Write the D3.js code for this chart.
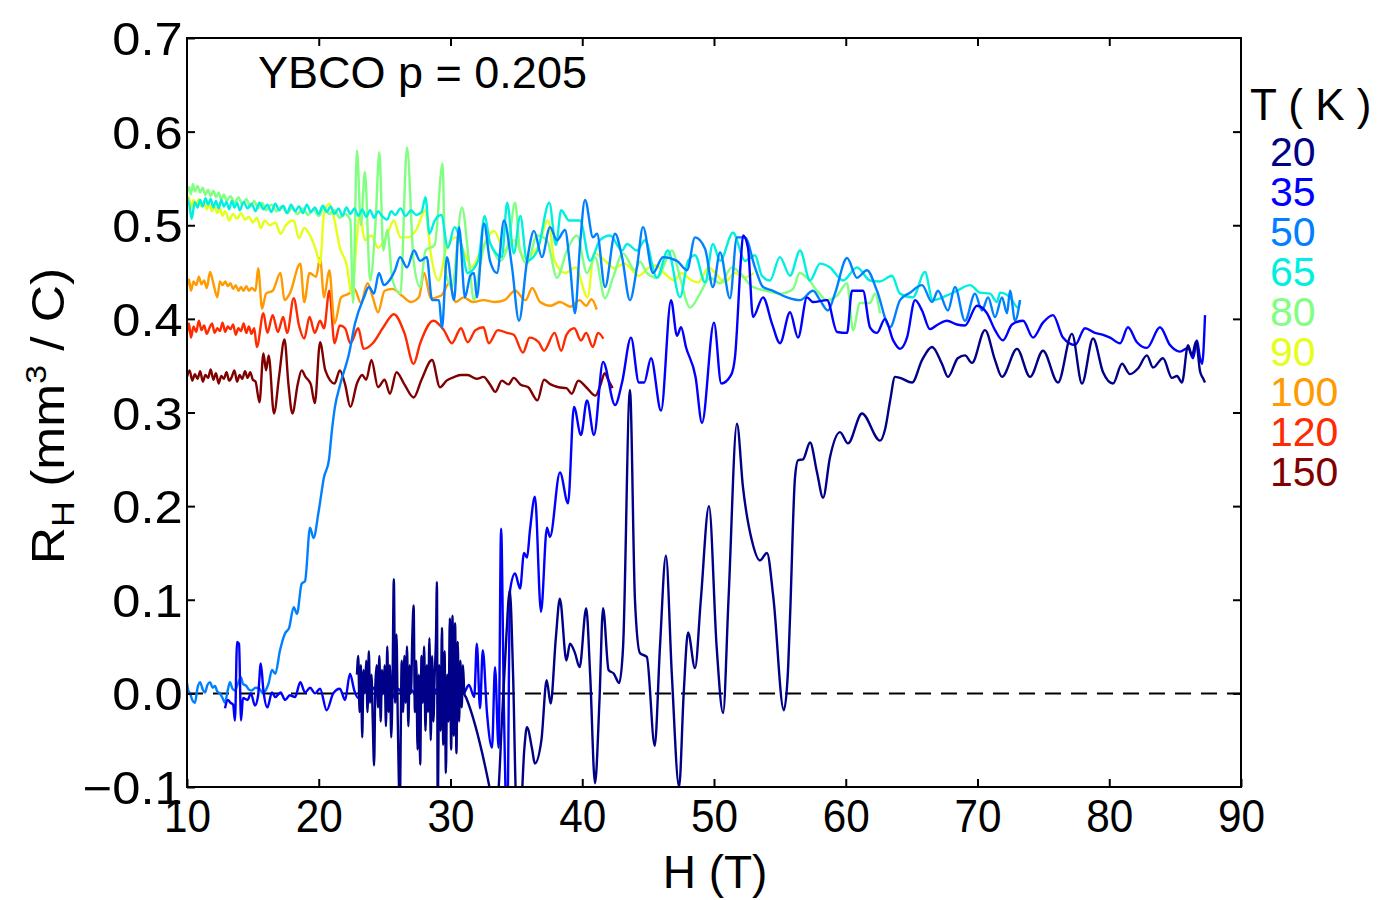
<!DOCTYPE html>
<html>
<head>
<meta charset="utf-8">
<script src="https://cdn.jsdelivr.net/npm/d3@7"></script>
<style>
  body { margin: 0; background: #fff; }
  text { font-family: "Liberation Sans", Arial, Helvetica, sans-serif; fill: #000; }
</style>
</head>
<body>
<script>
// Step 1: data, [H (T), R_H (mm^3/C)]
// =================================
var temps = [20, 35, 50, 65, 80, 90, 100, 120, 150];
var colors = ["#000088", "#0000ff", "#0080ff", "#00f0e0", "#80ff80", "#e4ff1a", "#ff9a00", "#ff2a00", "#800000"];
var xTicks = [10, 20, 30, 40, 50, 60, 70, 80, 90];
var yTicks = [-0.1, 0.0, 0.1, 0.2, 0.3, 0.4, 0.5, 0.6, 0.7];

var t150 = [[10.0,0.338],[10.2,0.345],[10.4,0.334],[10.6,0.341],[10.8,0.336],[11.0,0.344],[11.2,0.333],[11.4,0.34],[11.6,0.337],[11.8,0.346],[12.0,0.335],[12.2,0.342],[12.4,0.331],[12.6,0.339],[12.8,0.336],[13.0,0.343],[13.2,0.334],[13.4,0.338],[13.6,0.345],[13.8,0.333],[14.0,0.34],[14.2,0.336],[14.4,0.344],[14.6,0.337],[14.8,0.343],[15.0,0.335],[15.2,0.333],
  [15.5,0.311],[15.8,0.363],[16.0,0.345],[16.2,0.361],[16.6,0.299],[17.0,0.34],[17.4,0.378],[17.7,0.33],[18.0,0.299],[18.4,0.33],[18.7,0.345],[19.0,0.338],[19.4,0.33],[19.7,0.31],[20.1,0.375],[20.5,0.345],[21.2,0.331],[21.6,0.345],[22.0,0.33],[22.4,0.306],[22.9,0.331],[23.3,0.34],[23.6,0.335],[24.0,0.356],[24.5,0.327],[25.0,0.335],[25.4,0.32],[25.9,0.343],[26.5,0.33],[27.2,0.316],[27.8,0.335],[28.6,0.356],[29.2,0.327],[29.7,0.334],[30.3,0.338],[30.8,0.34],[31.3,0.34],[32.0,0.336],[32.5,0.338],[33.0,0.33],[33.4,0.322],[33.9,0.334],[34.4,0.33],[34.8,0.337],[35.3,0.33],[35.9,0.327],[36.6,0.313],[37.1,0.335],[37.6,0.33],[38.2,0.327],[38.8,0.326],[39.2,0.32],[39.7,0.334],[40.3,0.327],[41.0,0.318],[41.4,0.33],[41.7,0.342],[42.0,0.334],[42.3,0.326]];

var t120 = [[10.0,0.385],[10.15,0.395],[10.3,0.38],[10.5,0.392],[10.7,0.386],[10.9,0.398],[11.1,0.388],[11.3,0.393],[11.5,0.384],[11.7,0.39],[11.9,0.395],[12.1,0.385],[12.3,0.39],[12.5,0.387],[12.7,0.396],[12.9,0.386],[13.1,0.392],[13.3,0.389],[13.5,0.394],[13.7,0.383],[13.9,0.39],[14.1,0.387],[14.3,0.395],[14.5,0.385],[14.7,0.392],[14.9,0.384],[15.1,0.39],[15.3,0.37],[15.8,0.406],[16.1,0.385],[16.5,0.404],[16.9,0.386],[17.3,0.402],[17.6,0.385],[18.1,0.422],[18.5,0.393],[18.9,0.379],[19.3,0.402],[19.7,0.385],[20.1,0.398],[20.4,0.39],[20.8,0.43],[21.2,0.374],[21.6,0.393],[22.0,0.39],[22.4,0.374],[23.0,0.39],[23.4,0.368],[24.1,0.374],[24.9,0.391],[25.7,0.405],[26.5,0.385],[27.2,0.352],[27.7,0.374],[28.7,0.398],[29.5,0.388],[30.1,0.374],[30.8,0.39],[31.3,0.375],[31.9,0.388],[32.5,0.391],[32.9,0.374],[33.6,0.388],[34.3,0.385],[34.8,0.383],[35.5,0.364],[36.0,0.38],[36.7,0.375],[37.1,0.366],[37.9,0.385],[38.4,0.366],[38.8,0.383],[39.4,0.39],[39.9,0.377],[40.3,0.385],[40.8,0.37],[41.2,0.385],[41.6,0.379]];

var t100 = [[10.0,0.435],[10.15,0.442],[10.3,0.43],[10.5,0.44],[10.7,0.436],[10.9,0.445],[11.1,0.437],[11.3,0.441],[11.5,0.433],[11.75,0.45],[12.0,0.438],[12.3,0.423],[12.5,0.44],[12.7,0.436],[12.9,0.44],[13.1,0.435],[13.3,0.438],[13.5,0.432],[13.7,0.436],[13.9,0.43],[14.1,0.434],[14.3,0.43],[14.5,0.435],[14.7,0.43],[14.9,0.433],[15.2,0.43],[15.4,0.454],[15.7,0.411],[16.0,0.427],[16.5,0.43],[17.1,0.449],[17.4,0.42],[17.8,0.427],[18.6,0.459],[18.9,0.418],[19.3,0.449],[19.8,0.445],[20.1,0.465],[20.4,0.423],[20.8,0.452],[21.2,0.395],[21.7,0.423],[22.3,0.427],[22.7,0.432],[23.2,0.417],[23.7,0.438],[24.1,0.423],[24.5,0.407],[25.0,0.43],[25.6,0.432],[26.3,0.425],[27.0,0.418],[27.6,0.423],[28.0,0.449],[28.5,0.422],[29.3,0.425],[29.9,0.438],[30.4,0.418],[31.0,0.423],[31.7,0.418],[32.5,0.42],[33.4,0.418],[34.1,0.42],[34.9,0.43],[35.7,0.42],[36.2,0.433],[36.8,0.418],[37.6,0.414],[38.3,0.418],[39.1,0.413],[39.8,0.42],[40.3,0.414],[40.7,0.421],[41.1,0.41]];

var t90 = [[10.0,0.525],[10.15,0.53],[10.3,0.518],[10.5,0.527],[10.7,0.521],[10.9,0.528],[11.1,0.52],[11.3,0.525],[11.5,0.517],[11.7,0.522],[11.9,0.515],[12.1,0.52],[12.3,0.513],[12.5,0.518],[12.7,0.51],[12.9,0.515],[13.2,0.505],[13.5,0.512],[13.8,0.507],[14.1,0.513],[14.4,0.506],[14.7,0.509],[15.0,0.503],[15.3,0.508],[15.6,0.497],[15.9,0.505],[16.3,0.5],[16.7,0.503],[17.1,0.491],[17.5,0.5],[18.1,0.505],[18.5,0.486],[18.9,0.497],[19.3,0.49],[19.8,0.473],[20.1,0.459],[20.4,0.513],[20.8,0.523],[21.2,0.505],[21.6,0.476],[22.1,0.459],[22.5,0.427],[22.9,0.487],[23.1,0.513],[23.5,0.484],[24.0,0.489],[24.5,0.476],[25.2,0.49],[25.7,0.505],[26.2,0.487],[26.8,0.487],[27.4,0.495],[28.1,0.516],[28.5,0.47],[29.1,0.441],[29.7,0.476],[30.4,0.487],[31.2,0.466],[31.6,0.455],[32.4,0.476],[33.3,0.494],[34.1,0.473],[34.8,0.484],[35.6,0.466],[36.6,0.476],[37.4,0.505],[37.9,0.462],[38.7,0.449],[39.5,0.455],[40.4,0.423],[40.9,0.47],[41.9,0.46],[42.4,0.454],[43.2,0.459],[44.3,0.446],[45.0,0.454],[45.6,0.457],[46.2,0.449],[47.0,0.441],[47.5,0.449],[48.3,0.441],[48.8,0.439],[49.6,0.455],[50.1,0.449],[50.8,0.439],[51.6,0.449],[52.3,0.444],[53.0,0.449]];

var t80 = [[10.0,0.534],[10.15,0.541],[10.3,0.533],[10.45,0.544],[10.6,0.536],[10.8,0.542],[11.0,0.535],[11.2,0.54],[11.4,0.532],[11.6,0.538],[11.8,0.531],[12.0,0.537],[12.2,0.53],[12.4,0.535],[12.6,0.527],[12.8,0.533],[13.0,0.526],[13.3,0.531],[13.6,0.524],[13.9,0.53],[14.2,0.522],[14.5,0.528],[14.8,0.52],[15.1,0.526],[15.4,0.518],[15.7,0.524],[16.0,0.516],[16.4,0.522],[16.8,0.515],[17.2,0.52],[17.6,0.513],[18.0,0.519],[18.4,0.512],[18.8,0.518],[19.2,0.511],[19.6,0.517],[20.0,0.51],[20.4,0.52],[20.8,0.512],[21.2,0.516],[21.6,0.508],[22.0,0.512],[22.4,0.505],[22.6,0.417],[22.9,0.58],[23.2,0.5],[23.5,0.557],[23.9,0.441],[24.3,0.5],[24.6,0.578],[24.9,0.473],[25.2,0.495],[25.6,0.441],[26.2,0.427],[26.7,0.583],[27.2,0.462],[27.7,0.434],[28.1,0.473],[28.8,0.479],[29.4,0.566],[29.6,0.452],[30.1,0.434],[30.87,0.519],[31.4,0.462],[31.78,0.42],[32.24,0.457],[32.77,0.484],[33.76,0.462],[34.44,0.484],[34.9,0.524],[35.28,0.473],[35.81,0.459],[36.57,0.489],[37.32,0.484],[38.08,0.444],[38.84,0.473],[39.6,0.489],[40.36,0.449],[40.97,0.466],[41.73,0.422],[42.33,0.444],[43.09,0.47],[44.0,0.452],[44.38,0.461],[44.91,0.449],[45.67,0.444],[46.81,0.473],[47.42,0.444],[48.18,0.412],[48.94,0.427],[49.7,0.444],[50.46,0.438],[51.37,0.455],[51.97,0.449],[52.96,0.434],[54.02,0.43],[55.01,0.427],[56.0,0.432],[56.5,0.449],[57.06,0.444],[57.82,0.43],[58.58,0.42],[59.34,0.425],[60.1,0.438],[60.55,0.388],[61.08,0.417],[61.84,0.417],[62.22,0.427],[62.6,0.406]];

var t65 = [[10.0,0.53],[10.2,0.52],[10.35,0.507],[10.6,0.525],[10.8,0.519],[11.0,0.527],[11.2,0.52],[11.4,0.529],[11.6,0.522],[11.8,0.528],[12.0,0.519],[12.2,0.526],[12.4,0.518],[12.6,0.527],[12.8,0.52],[13.0,0.525],[13.2,0.517],[13.4,0.526],[13.6,0.519],[13.8,0.524],[14.0,0.516],[14.3,0.525],[14.6,0.518],[14.9,0.523],[15.2,0.515],[15.5,0.524],[15.8,0.517],[16.1,0.522],[16.4,0.514],[16.7,0.523],[17.0,0.516],[17.3,0.521],[17.6,0.513],[17.9,0.522],[18.2,0.515],[18.5,0.52],[18.8,0.513],[19.1,0.522],[19.4,0.514],[19.7,0.519],[20.0,0.512],[20.3,0.521],[20.6,0.514],[20.9,0.52],[21.2,0.512],[21.5,0.518],[21.8,0.51],[22.1,0.519],[22.4,0.512],[22.7,0.518],[23.0,0.51],[23.3,0.517],[23.6,0.509],[23.9,0.516],[24.2,0.508],[24.5,0.515],[24.8,0.51],[25.2,0.506],[25.5,0.515],[25.8,0.511],[26.2,0.518],[26.6,0.51],[27.0,0.516],[27.4,0.511],[27.8,0.514],[28.1,0.53],[28.4,0.491],[28.8,0.505],[29.3,0.511],[29.8,0.476],[30.3,0.498],[30.8,0.481],[31.3,0.449],[32.1,0.462],[32.6,0.51],[33.0,0.481],[33.9,0.466],[34.3,0.524],[34.8,0.47],[35.3,0.51],[35.8,0.462],[36.6,0.473],[37.5,0.524],[38.0,0.479],[38.4,0.516],[39.0,0.505],[39.83,0.505],[40.59,0.462],[41.35,0.484],[42.11,0.489],[43.02,0.473],[43.4,0.48],[44.15,0.473],[44.76,0.484],[45.67,0.444],[46.5,0.473],[47.42,0.423],[48.03,0.462],[48.56,0.468],[49.32,0.439],[49.92,0.48],[50.46,0.462],[51.44,0.492],[52.35,0.462],[53.11,0.468],[53.64,0.446],[54.25,0.441],[55.0,0.466],[55.77,0.446],[56.53,0.473],[57.29,0.441],[58.05,0.459],[58.8,0.455],[59.79,0.441],[60.85,0.455],[61.84,0.441],[62.6,0.44],[63.5,0.446],[64.12,0.427],[65.1,0.423],[66.01,0.45],[66.6,0.42],[67.68,0.425],[68.44,0.43],[69.43,0.436],[70.19,0.428],[70.95,0.427],[71.48,0.418],[71.71,0.428],[72.47,0.423],[73.08,0.412],[73.23,0.42]];

var t50 = [[10.0,0.011],[10.1,0.003],[10.23,0.0],[10.4,-0.007],[10.6,-0.01],[10.8,0.006],[10.99,0.012],[11.2,0.004],[11.37,0.001],[11.55,0.009],[11.75,0.012],[11.95,0.006],[12.13,0.008],[12.3,0.002],[12.5,0.0],[12.7,-0.005],[12.88,-0.01],[13.1,0.004],[13.26,0.012],[13.45,0.005],[13.64,0.003],[13.85,0.01],[14.1,0.017],[14.25,0.01],[14.5,0.008],[14.7,0.004],[14.9,0.003],[15.2,0.006],[15.5,0.005],[15.75,0.0],[16.0,0.004],[16.2,0.011],[16.45,0.025],[16.7,0.021],[17.06,0.046],[17.44,0.064],[17.75,0.07],[18.1,0.092],[18.35,0.085],[18.7,0.117],[18.96,0.12],[19.34,0.177],[19.6,0.166],[20.0,0.195],[20.4,0.231],[20.77,0.249],[21.0,0.281],[21.23,0.306],[21.61,0.329],[22.3,0.363],[22.75,0.395],[23.43,0.423],[23.81,0.434],[24.19,0.427],[24.57,0.449],[24.95,0.436],[25.41,0.442],[25.79,0.452],[26.17,0.466],[26.7,0.455],[27.23,0.473],[27.69,0.462],[28.2,0.466],[28.6,0.42],[29.13,0.42],[29.35,0.39],[29.73,0.466],[30.27,0.42],[30.65,0.498],[31.1,0.423],[31.5,0.446],[31.78,0.449],[32.0,0.423],[32.54,0.502],[33.0,0.462],[33.53,0.449],[34.06,0.505],[34.67,0.455],[35.2,0.398],[35.81,0.462],[36.34,0.494],[36.94,0.466],[37.55,0.498],[38.08,0.484],[38.69,0.495],[39.07,0.457],[39.45,0.406],[39.83,0.479],[40.21,0.527],[40.82,0.487],[41.12,0.491],[41.73,0.434],[42.49,0.491],[43.02,0.466],[43.62,0.42],[44.15,0.455],[44.61,0.498],[45.37,0.449],[46.13,0.466],[47.19,0.462],[47.95,0.452],[48.56,0.487],[49.32,0.475],[49.92,0.434],[50.46,0.471],[51.21,0.422],[51.74,0.487],[52.35,0.487],[53.11,0.455],[53.72,0.434],[54.48,0.43],[55.54,0.423],[56.53,0.42],[57.52,0.43],[58.05,0.42],[58.65,0.409],[59.18,0.427],[60.1,0.465],[60.85,0.444],[61.61,0.452],[62.37,0.43],[63.36,0.391],[64.12,0.42],[64.88,0.428],[65.79,0.436],[66.55,0.418],[67.0,0.43],[67.76,0.409],[68.29,0.434],[69.05,0.398],[69.81,0.427],[70.34,0.409],[70.8,0.423],[71.33,0.402],[71.86,0.423],[72.24,0.406],[72.47,0.43],[72.85,0.398],[73.23,0.42]];

var t35 = [[12.88,-0.016],[13.1,-0.007],[13.3,-0.01],[13.5,-0.012],[13.64,-0.029],[13.8,0.055],[13.95,0.053],[14.1,-0.029],[14.25,-0.005],[14.6,-0.007],[14.85,0.0],[15.16,-0.013],[15.4,-0.002],[15.6,0.032],[15.8,0.003],[16.1,-0.015],[16.45,0.001],[16.7,-0.004],[17.1,0.001],[17.45,-0.007],[17.8,-0.002],[18.2,-0.004],[18.6,0.012],[18.96,0.001],[19.34,0.006],[19.72,0.0],[20.1,0.005],[20.6,-0.018],[21.1,0.0],[21.6,0.005],[22.0,-0.007],[22.37,0.021],[22.7,0.003],[23.0,-0.005],[23.4,0.008],[23.8,-0.003],[24.2,0.006],[24.6,-0.004],[25.0,0.004],[25.5,-0.006],[26.0,0.005],[26.5,-0.003],[27.0,0.004],[27.5,-0.005],[28.0,0.003],[28.5,-0.004],[29.0,0.005],[29.5,-0.003],[30.0,0.004],[30.5,-0.002],[31.0,0.0],[31.4,0.009],[31.8,-0.004],[32.0,0.053],[32.24,-0.016],[32.45,0.046],[32.77,-0.021],[33.15,-0.058],[33.38,0.028],[33.65,-0.058],[33.84,0.176],[34.06,-0.021],[34.3,-0.15],[34.52,0.11],[34.9,0.128],[35.28,0.112],[35.58,0.15],[35.81,0.145],[36.03,0.174],[36.41,0.21],[36.87,0.087],[37.32,0.177],[37.55,0.167],[38.31,0.236],[38.92,0.203],[39.37,0.306],[39.9,0.276],[40.36,0.313],[40.89,0.276],[41.58,0.354],[42.49,0.308],[43.02,0.332],[43.7,0.38],[44.3,0.332],[44.7,0.332],[45.22,0.358],[45.98,0.302],[46.74,0.42],[47.19,0.382],[47.5,0.391],[47.87,0.37],[48.6,0.338],[49.09,0.289],[50.0,0.396],[50.55,0.331],[51.29,0.34],[51.6,0.36],[52.05,0.465],[52.2,0.489],[52.58,0.476],[52.96,0.402],[53.72,0.423],[54.4,0.395],[55.01,0.374],[55.77,0.407],[56.38,0.38],[57.06,0.423],[57.52,0.418],[58.58,0.42],[59.34,0.386],[60.1,0.385],[60.47,0.43],[61.31,0.43],[61.84,0.391],[62.37,0.385],[62.98,0.4],[63.6,0.377],[64.12,0.368],[64.65,0.38],[65.26,0.42],[65.79,0.409],[66.39,0.389],[67.0,0.394],[67.68,0.398],[68.44,0.394],[69.05,0.393],[69.96,0.414],[70.72,0.406],[71.33,0.388],[71.93,0.377],[72.62,0.394],[73.46,0.398],[74.21,0.38],[74.97,0.396],[75.73,0.404],[76.49,0.38],[77.4,0.372],[78.16,0.39],[78.92,0.385],[79.53,0.383],[80.06,0.38],[80.82,0.374],[81.42,0.391],[82.1,0.375],[82.86,0.369],[83.85,0.391],[84.61,0.372],[85.37,0.365],[85.98,0.369],[86.36,0.358],[86.66,0.377],[86.89,0.358],[87.05,0.352],[87.27,0.404]];

var t20 = [[22.9,0.02],[23.0,0.04],[23.1,-0.02],[23.2,0.03],[23.3,-0.047],[23.4,0.025],[23.5,0.0],[23.6,0.035],[23.7,-0.02],[23.8,0.045],[23.9,-0.01],[24.0,0.02],[24.1,-0.03],[24.2,-0.077],[24.3,0.01],[24.4,0.03],[24.5,-0.015],[24.6,0.04],[24.7,-0.03],[24.8,0.025],[24.9,0.0],[25.0,0.03],[25.1,-0.035],[25.2,0.05],[25.3,-0.02],[25.4,0.03],[25.5,-0.047],[25.6,0.01],[25.7,0.122],[25.8,-0.01],[25.9,0.063],[26.0,-0.03],[26.15,-0.12],[26.3,0.035],[26.4,-0.02],[26.5,0.04],[26.6,-0.01],[26.7,0.05],[26.8,-0.035],[26.9,0.03],[27.0,0.0],[27.1,0.06],[27.2,0.094],[27.3,-0.02],[27.4,0.035],[27.5,-0.06],[27.6,0.02],[27.7,-0.076],[27.8,0.04],[27.9,-0.01],[28.0,0.05],[28.1,-0.04],[28.2,0.03],[28.3,-0.02],[28.4,0.059],[28.5,-0.05],[28.6,0.04],[28.7,-0.03],[28.8,0.02],[28.9,0.06],[28.97,0.119],[29.03,-0.12],[29.15,0.03],[29.25,-0.04],[29.35,0.07],[29.45,-0.055],[29.55,0.045],[29.65,-0.085],[29.75,0.02],[29.85,-0.03],[29.95,0.08],[30.05,-0.06],[30.15,0.083],[30.25,-0.045],[30.35,0.075],[30.45,-0.064],[30.55,0.055],[30.65,-0.03],[30.75,0.035],[30.85,-0.015],[30.95,0.03],[31.05,0.0],
  [31.2,-0.005],[33.0,-0.103],[33.3,-0.125],[33.6,-0.11],[33.9,-0.03],[34.2,0.05],[34.5,0.11],[34.75,0.02],[35.0,-0.12],[35.3,-0.13],[35.6,-0.06],[35.8,-0.036],[36.2,-0.06],[36.4,-0.075],[36.9,-0.05],[37.3,0.014],[37.6,-0.011],[38.0,0.06],[38.3,0.101],[38.8,0.035],[39.07,0.053],[39.45,0.043],[39.8,0.028],[40.3,0.091],[40.6,0.02],[40.97,-0.096],[41.3,-0.01],[41.58,0.091],[42.0,0.025],[42.4,0.021],[42.8,0.011],[43.1,0.05],[43.62,0.324],[44.0,0.1],[44.38,0.043],[44.9,0.039],[45.5,-0.056],[45.9,0.05],[46.35,0.147],[46.8,0.02],[47.35,-0.1],[47.7,0.0],[48.03,0.065],[48.56,0.027],[49.0,0.1],[49.62,0.2],[50.2,0.05],[50.69,-0.021],[51.1,0.1],[51.74,0.288],[52.2,0.22],[52.88,0.163],[53.49,0.142],[54.02,0.15],[54.5,0.103],[55.3,-0.018],[55.6,0.02],[55.77,0.081],[56.15,0.231],[56.38,0.249],[56.76,0.25],[57.29,0.268],[57.82,0.236],[58.28,0.209],[58.8,0.252],[59.56,0.279],[60.17,0.267],[61.23,0.299],[62.6,0.27],[63.0,0.283],[63.36,0.312],[63.74,0.338],[64.12,0.337],[65.03,0.332],[65.79,0.356],[66.55,0.37],[67.3,0.352],[67.76,0.338],[68.5,0.358],[69.05,0.361],[69.58,0.353],[70.57,0.388],[71.33,0.356],[71.86,0.338],[73.0,0.368],[73.99,0.338],[74.97,0.366],[76.11,0.332],[77.17,0.384],[77.93,0.331],[78.77,0.379],[79.53,0.343],[80.29,0.331],[80.97,0.352],[81.57,0.341],[82.18,0.347],[82.86,0.361],[83.32,0.348],[84.08,0.358],[84.76,0.337],[85.14,0.339],[85.52,0.332],[85.98,0.372],[86.28,0.361],[86.59,0.376],[86.89,0.344],[87.1,0.337],[87.27,0.332]];

var seriesData = [t20, t35, t50, t65, t80, t90, t100, t120, t150];

// Step 2: chart frame
// =================================
var svgWidth = 1380;
var svgHeight = 900;

var margin = { top: 38, right: 139, bottom: 113, left: 187 };
var width = svgWidth - margin.left - margin.right;
var height = svgHeight - margin.top - margin.bottom;

var svg = d3.select("body")
  .append("svg")
  .attr("width", svgWidth)
  .attr("height", svgHeight);

var chartGroup = svg.append("g")
  .attr("transform", `translate(${margin.left}, ${margin.top})`);

var xScale = d3.scaleLinear().domain([10, 90]).range([0, width]);
var yScale = d3.scaleLinear().domain([-0.1, 0.7]).range([height, 0]);

svg.append("defs").append("clipPath")
  .attr("id", "plot-clip")
  .append("rect")
  .attr("width", width)
  .attr("height", height);

// zero line
chartGroup.append("line")
  .attr("x1", 0).attr("x2", width)
  .attr("y1", yScale(0)).attr("y2", yScale(0))
  .attr("stroke", "#000")
  .attr("stroke-width", 2)
  .attr("stroke-dasharray", "16,10");

// curves, highest T drawn first so 20 K ends up on top
var line = d3.line()
  .x(d => xScale(d[0]))
  .y(d => yScale(d[1]))
  .curve(d3.curveMonotoneX);

var curves = chartGroup.append("g").attr("clip-path", "url(#plot-clip)");
for (var i = seriesData.length - 1; i >= 0; i--) {
  curves.append("path")
    .datum(seriesData[i])
    .attr("d", line)
    .attr("fill", "none")
    .attr("stroke", colors[i])
    .attr("stroke-width", 2.4)
    .attr("stroke-linejoin", "round");
}

// axes with inward ticks
var bottomAxis = d3.axisBottom(xScale).tickValues(xTicks).tickSizeInner(-8).tickSizeOuter(0).tickPadding(12);
var topAxis = d3.axisTop(xScale).tickValues(xTicks.slice(1, -1)).tickSizeInner(-8).tickSizeOuter(0).tickFormat("");
var leftAxis = d3.axisLeft(yScale).tickValues(yTicks).tickSizeInner(-8).tickSizeOuter(0).tickPadding(4).tickFormat(d3.format(".1f"));
var rightAxis = d3.axisRight(yScale).tickValues(yTicks.slice(1, -1)).tickSizeInner(-8).tickSizeOuter(0).tickFormat("");

var xAxis = chartGroup.append("g")
  .attr("transform", `translate(0, ${height})`)
  .call(bottomAxis);
xAxis.selectAll("text")
  .style("font-size", "46px")
  .attr("transform", "scale(0.92,1)");

chartGroup.append("g").call(topAxis);

var yAxis = chartGroup.append("g").call(leftAxis);
yAxis.selectAll("text")
  .style("font-size", "46px")
  .attr("dy", "0.36em")
  .attr("transform", "scale(1.1,1)");

chartGroup.append("g")
  .attr("transform", `translate(${width}, 0)`)
  .call(rightAxis);

chartGroup.selectAll(".domain").remove();
chartGroup.selectAll(".tick line").attr("stroke", "#000").attr("stroke-width", 2);

chartGroup.append("rect")
  .attr("width", width)
  .attr("height", height)
  .attr("fill", "none")
  .attr("stroke", "#000")
  .attr("stroke-width", 2);

// axis titles
svg.append("text")
  .attr("x", 715)
  .attr("y", 888)
  .attr("text-anchor", "middle")
  .style("font-size", "46px")
  .text("H (T)");

var yTitle = svg.append("text")
  .attr("transform", "translate(64, 416) rotate(-90) scale(1.12,1)")
  .attr("text-anchor", "middle")
  .style("font-size", "46px");
yTitle.append("tspan").text("R");
yTitle.append("tspan").attr("dy", 10).style("font-size", "32px").text("H");
yTitle.append("tspan").attr("dy", -10).text(" (mm");
yTitle.append("tspan").attr("dy", -18).style("font-size", "30px").text("3");
yTitle.append("tspan").attr("dy", 18).text(" / C)");

// sample label
svg.append("text")
  .attr("x", 258)
  .attr("y", 88)
  .style("font-size", "45px")
  .text("YBCO p = 0.205");

// legend
svg.append("text")
  .attr("x", 1250)
  .attr("y", 120)
  .style("font-size", "44px")
  .text("T ( K )");

svg.selectAll(".legend-t")
  .data(temps)
  .enter()
  .append("text")
  .attr("class", "legend-t")
  .attr("x", 1270)
  .attr("y", (d, i) => 166 + i * 40)
  .style("font-size", "41px")
  .style("fill", (d, i) => colors[i])
  .text(d => d);
</script>
</body>
</html>
